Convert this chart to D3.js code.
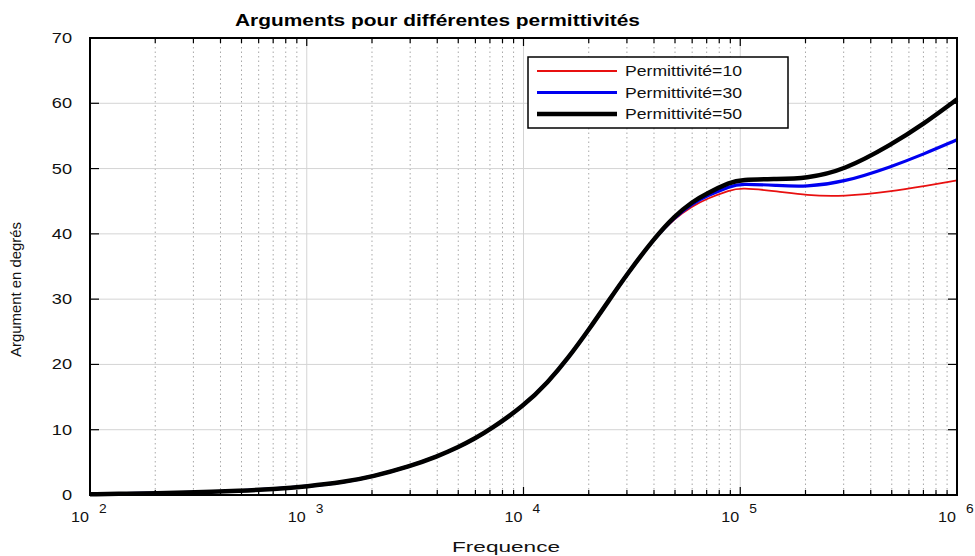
<!DOCTYPE html>
<html>
<head>
<meta charset="utf-8">
<script src="https://cdn.jsdelivr.net/npm/d3@7"></script>
<style>
  body { margin: 0; background: #fff; }
  svg { display: block; font-family: "Liberation Sans", Arial, sans-serif; }
</style>
</head>
<body>
<div id="chart"></div>
<script>
// frequencies (Hz) where the curves were read
var freqs = [1e2, 1.5e2, 2e2, 3e2, 5e2, 7e2, 1e3, 1.5e3, 2e3, 3e3, 4e3, 5e3, 6e3, 7e3,
             1e4, 1.3e4, 1.6e4, 2e4, 2.5e4, 3e4, 4e4, 5e4, 6e4, 7e4, 9e4,
             1e5, 1.5e5, 2e5, 3e5, 5e5, 7e5, 1e6];

// argument in degrees, one list per permittivity
var eps10 = [0.12, 0.2, 0.28, 0.4, 0.65, 0.9, 1.3, 2.0, 2.8, 4.4, 5.9, 7.3, 8.7, 10.0,
             13.6, 17.3, 20.9, 25.3, 30.0, 33.8, 39.3, 42.4, 44.2, 45.4, 46.7,
             47.1, 46.5, 45.9, 45.7, 46.5, 47.3, 48.2];
var eps30 = [0.12, 0.2, 0.28, 0.4, 0.65, 0.9, 1.3, 2.0, 2.8, 4.4, 5.9, 7.3, 8.7, 10.0,
             13.6, 17.3, 20.9, 25.3, 30.0, 33.8, 39.3, 42.6, 44.6, 45.8, 47.3,
             47.7, 47.4, 47.2, 47.9, 50.3, 52.2, 54.4];
var eps50 = [0.12, 0.2, 0.28, 0.4, 0.65, 0.9, 1.3, 2.0, 2.8, 4.4, 5.9, 7.3, 8.7, 10.0,
             13.6, 17.3, 20.9, 25.3, 30.0, 33.8, 39.3, 42.8, 44.9, 46.2, 47.9,
             48.3, 48.4, 48.5, 49.7, 53.7, 56.8, 60.6];

var seriesNames = ["Permittivité=10", "Permittivité=30", "Permittivité=50"];
var yTicks = [0, 10, 20, 30, 40, 50, 60, 70];
var decades = [2, 3, 4, 5, 6];

var width = 975, height = 556;
var pLeft = 90, pRight = 957, pTop = 38, pBottom = 495;

var svg = d3.select("#chart").append("svg")
    .attr("width", width)
    .attr("height", height);

var x = d3.scaleLog().domain([1e2, 1e6]).range([pLeft, pRight]);
var y = d3.scaleLinear().domain([0, 70]).range([pBottom, pTop]);

// minor positions 2..9 x 10^k
var minors = [];
decades.slice(0, -1).forEach(function(k) {
    for (var m = 2; m <= 9; m++) minors.push(m * Math.pow(10, k));
});
var majors = decades.map(function(k) { return Math.pow(10, k); });

//grid
svg.append("g").selectAll("line")
    .data(minors).enter().append("line")
    .attr("x1", function(d) { return x(d); })
    .attr("x2", function(d) { return x(d); })
    .attr("y1", pTop).attr("y2", pBottom)
    .style("stroke", "#a8a8a8")
    .style("stroke-width", 1)
    .style("stroke-dasharray", "1.5,3");

svg.append("g").selectAll("line")
    .data(majors).enter().append("line")
    .attr("x1", function(d) { return x(d); })
    .attr("x2", function(d) { return x(d); })
    .attr("y1", pTop).attr("y2", pBottom)
    .style("stroke", "#d4d4d4")
    .style("stroke-width", 1);

svg.append("g").selectAll("line")
    .data(yTicks.slice(1, -1)).enter().append("line")
    .attr("x1", pLeft).attr("x2", pRight)
    .attr("y1", function(d) { return y(d); })
    .attr("y2", function(d) { return y(d); })
    .style("stroke", "#d4d4d4")
    .style("stroke-width", 1);

//curves
var line = d3.line()
    .x(function(d) { return x(d[0]); })
    .y(function(d) { return y(d[1]); })
    .curve(d3.curveBasis);

var series = [
    { name: seriesNames[0], vals: eps10, color: "#e81010", w: 1.8 },
    { name: seriesNames[1], vals: eps30, color: "#0000f0", w: 3.2 },
    { name: seriesNames[2], vals: eps50, color: "#000", w: 4.5 }
];

svg.append("g").selectAll("path")
    .data(series).enter().append("path")
    .attr("d", function(s) { return line(d3.zip(freqs, s.vals)); })
    .style("fill", "none")
    .style("stroke", function(s) { return s.color; })
    .style("stroke-width", function(s) { return s.w; });

//ticks (inward, matlab style)
var tk = svg.append("g").style("stroke", "#000").style("stroke-width", 1.2);
minors.concat(majors).forEach(function(f) {
    var len = majors.indexOf(f) >= 0 ? 8 : 5;
    tk.append("line").attr("x1", x(f)).attr("x2", x(f)).attr("y1", pBottom).attr("y2", pBottom - len);
    tk.append("line").attr("x1", x(f)).attr("x2", x(f)).attr("y1", pTop).attr("y2", pTop + len);
});
yTicks.forEach(function(v) {
    tk.append("line").attr("x1", pLeft).attr("x2", pLeft + 9).attr("y1", y(v)).attr("y2", y(v));
    tk.append("line").attr("x1", pRight).attr("x2", pRight - 9).attr("y1", y(v)).attr("y2", y(v));
});

//frame
svg.append("rect")
    .attr("x", pLeft).attr("y", pTop)
    .attr("width", pRight - pLeft).attr("height", pBottom - pTop)
    .style("fill", "none")
    .style("stroke", "#000")
    .style("stroke-width", 2);

// the picture is stretched sideways, so text is widened a bit
var sx = 1.3;

//y labels
svg.append("g").selectAll("text")
    .data(yTicks).enter().append("text")
    .attr("transform", function(d) { return "translate(72," + (y(d) + 5) + ") scale(" + sx + ",1)"; })
    .attr("text-anchor", "end")
    .style("font-size", "14px")
    .style("fill", "#111")
    .text(function(d) { return d; });

//x labels 10^k
var xl = svg.append("g").selectAll("g")
    .data(decades).enter().append("g");
xl.append("text")
    .attr("transform", function(k) { return "translate(" + (x(Math.pow(10, k)) - 1) + ",522) scale(1.15,1)"; })
    .attr("text-anchor", "end")
    .style("font-size", "14px")
    .style("fill", "#111")
    .text("10");
xl.append("text")
    .attr("transform", function(k) { return "translate(" + (x(Math.pow(10, k)) + 9) + ",513) scale(1.15,1)"; })
    .style("font-size", "12px")
    .style("fill", "#111")
    .text(function(k) { return k; });

svg.append("text")
    .attr("x", 452).attr("y", 552)
    .attr("textLength", 108)
    .attr("lengthAdjust", "spacingAndGlyphs")
    .style("font-size", "15px")
    .style("fill", "#111")
    .text("Frequence");

svg.append("text")
    .attr("transform", "translate(21,290) rotate(-90)")
    .attr("x", -67)
    .attr("textLength", 135)
    .attr("lengthAdjust", "spacingAndGlyphs")
    .style("font-size", "15px")
    .style("fill", "#111")
    .text("Argument en degrés");

svg.append("text")
    .attr("x", 235).attr("y", 26)
    .attr("textLength", 405)
    .attr("lengthAdjust", "spacingAndGlyphs")
    .style("font-size", "16px")
    .style("font-weight", "bold")
    .text("Arguments pour différentes permittivités");

//legend
var lg = svg.append("g");
lg.append("rect")
    .attr("x", 528).attr("y", 57)
    .attr("width", 260).attr("height", 71)
    .style("fill", "#fff")
    .style("stroke", "#000")
    .style("stroke-width", 1.5);
var items = lg.selectAll("g.item")
    .data(series).enter().append("g")
    .attr("transform", function(d, i) { return "translate(0," + (71 + i * 21.5) + ")"; });
items.append("line")
    .attr("x1", 537).attr("x2", 617)
    .style("stroke", function(d) { return d.color; })
    .style("stroke-width", function(d) { return d.w; });
items.append("text")
    .attr("x", 625).attr("y", 5)
    .attr("textLength", 117)
    .attr("lengthAdjust", "spacingAndGlyphs")
    .style("font-size", "14px")
    .style("fill", "#111")
    .text(function(d) { return d.name; });
</script>
</body>
</html>
